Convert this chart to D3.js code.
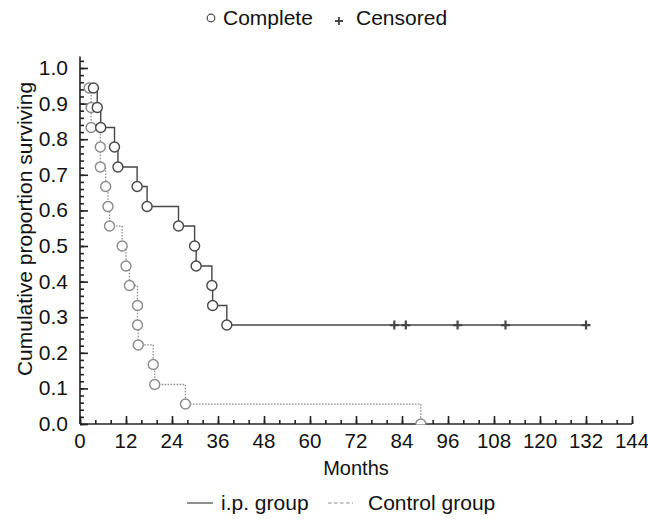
<!DOCTYPE html>
<html>
<head>
<meta charset="utf-8">
<script src="https://cdn.jsdelivr.net/npm/d3@7"></script>
<style>
  body { margin: 0; background: #fff; }
  text { font-family: "Liberation Sans", Arial, sans-serif; }
</style>
</head>
<body>
<div id="chart"></div>
<script>
// ---------------------------------- DATA ---------------------------------- //

// i.p. group: event times (months) and survival after each event
let ip_times = [3.5, 4.5, 5.4, 9.0, 9.9, 14.9, 17.5, 25.7, 29.9, 30.3, 34.4, 34.6, 38.3];
let ip_surv = [0.944, 0.889, 0.833, 0.778, 0.722, 0.667, 0.611, 0.556, 0.5, 0.444, 0.389, 0.333, 0.278];
let ip_censored = [82, 85, 98.5, 111, 132];

// control group
let ctl_times = [2.4, 2.9, 2.9, 5.3, 5.3, 6.7, 7.3, 7.7, 11, 12, 12.9, 15, 15, 15.2, 19.1, 19.5, 27.5, 88.9];
let ctl_surv = [0.944, 0.889, 0.833, 0.778, 0.722, 0.667, 0.611, 0.556, 0.5, 0.444, 0.389, 0.333, 0.278, 0.222, 0.167, 0.111, 0.056, 0];

let x_ticks = d3.range(0, 145, 12);
let y_ticks = d3.range(0, 1.01, 0.1);

// ---------------------------------- SETTINGS ---------------------------------- //

let img_width = 648;
let img_height = 519;
let ip_color = '#464646';
let ctl_color = '#8a8a8a';
let axis_color = '#222';
let text_color = '#111';
let tick_font = 20.5;
let label_font = 21;

let x = d3.scaleLinear().domain([0, 144]).range([80, 632]);
let y = d3.scaleLinear().domain([0, 1]).range([424, 68]);

let svg = d3.select('#chart').append('svg')
  .attr('width', img_width)
  .attr('height', img_height);

svg.append('rect').attr('width', img_width).attr('height', img_height).attr('fill', '#fff');

// ---------------------------------- AXES ---------------------------------- //

let g_axis = svg.append('g').attr('id', 'g_axis');

// x axis: minor ticks every 4, major every 12, pointing up
g_axis.append('g')
  .attr('transform', `translate(0,${y(0)})`)
  .call(d3.axisTop(x).tickValues(d3.range(0, 145, 4)).tickSize(4).tickFormat(''))
  .call(g => g.select('.domain').remove());
let x_axis = g_axis.append('g')
  .attr('transform', `translate(0,${y(0)})`)
  .call(d3.axisTop(x).tickValues(x_ticks).tickSize(8).tickFormat(''));
x_axis.select('.domain').attr('d', `M${x(0)},0H${x(144)}`);

g_axis.selectAll('.xlab')
  .data(x_ticks)
  .enter()
  .append('text')
  .attr('class', 'xlab')
  .attr('x', d => x(d))
  .attr('y', 448)
  .attr('text-anchor', 'middle')
  .attr('font-size', tick_font)
  .attr('fill', text_color)
  .text(d => d);

// y axis: minor ticks every 0.02, major every 0.1, pointing right
let g_yaxis = g_axis.append('g').attr('transform', `translate(${x(0)},0)`);
g_yaxis.append('g')
  .call(d3.axisRight(y).tickValues(d3.range(0, 1.021, 0.02)).tickSize(4).tickFormat(''))
  .call(g => g.select('.domain').remove());
g_yaxis.append('g')
  .call(d3.axisRight(y).tickValues(y_ticks).tickSize(8).tickFormat(''))
  .call(g => g.select('.domain').attr('d', `M0,${y(0)}V${y(1.032)}`));

g_axis.selectAll('line, path').attr('stroke', axis_color).attr('stroke-width', 1.6);

g_axis.selectAll('.ylab')
  .data(y_ticks)
  .enter()
  .append('text')
  .attr('class', 'ylab')
  .attr('x', 68)
  .attr('y', d => y(d) + 7)
  .attr('text-anchor', 'end')
  .attr('font-size', label_font)
  .attr('fill', text_color)
  .text(d => d.toFixed(1));

svg.append('text')
  .attr('x', 356)
  .attr('y', 475)
  .attr('text-anchor', 'middle')
  .attr('font-size', 20)
  .attr('fill', text_color)
  .text('Months');

svg.append('text')
  .attr('transform', 'translate(32,229) rotate(-90)')
  .attr('text-anchor', 'middle')
  .attr('font-size', label_font)
  .attr('fill', text_color)
  .text('Cumulative proportion surviving');

// ---------------------------------- CURVES ---------------------------------- //

svg.append('clipPath').attr('id', 'plot_clip')
  .append('rect')
  .attr('x', x(0)).attr('y', 0)
  .attr('width', x(144) - x(0) + 10).attr('height', y(0) + 0.5);

let g_plot = svg.append('g').attr('clip-path', 'url(#plot_clip)');

function stepPoints(times, surv, last_time) {
  let pts = [[times[0], surv[0]]];
  for (let i = 1; i < times.length; i++) {
    pts.push([times[i], surv[i - 1]]);
    pts.push([times[i], surv[i]]);
  }
  if (last_time !== undefined) pts.push([last_time, surv[surv.length - 1]]);
  return pts;
}

let line = d3.line().x(d => x(d[0])).y(d => y(d[1]));

g_plot.append('path')
  .attr('d', line(stepPoints(ctl_times, ctl_surv)))
  .attr('fill', 'none')
  .attr('stroke', ctl_color)
  .attr('stroke-width', 1.3)
  .attr('stroke-dasharray', '1.5,1.5');

g_plot.append('path')
  .attr('d', line(stepPoints(ip_times, ip_surv, d3.max(ip_censored))))
  .attr('fill', 'none')
  .attr('stroke', ip_color)
  .attr('stroke-width', 1.4);

let ctl_pts = ctl_times.map((t, i) => [t, ctl_surv[i]]);
let ip_pts = ip_times.map((t, i) => [t, ip_surv[i]]);

g_plot.selectAll('.ctl_circle')
  .data(ctl_pts)
  .enter()
  .append('circle')
  .attr('class', 'ctl_circle')
  .attr('cx', d => x(d[0]))
  .attr('cy', d => y(d[1]))
  .attr('r', 5)
  .attr('fill', '#fff')
  .attr('stroke', ctl_color)
  .attr('stroke-width', 1.4);

g_plot.selectAll('.ip_circle')
  .data(ip_pts)
  .enter()
  .append('circle')
  .attr('class', 'ip_circle')
  .attr('cx', d => x(d[0]))
  .attr('cy', d => y(d[1]))
  .attr('r', 5)
  .attr('fill', '#fff')
  .attr('stroke', ip_color)
  .attr('stroke-width', 1.4);

let ip_last = ip_surv[ip_surv.length - 1];
g_plot.selectAll('.censor')
  .data(ip_censored)
  .enter()
  .append('path')
  .attr('class', 'censor')
  .attr('transform', d => `translate(${x(d)},${y(ip_last)})`)
  .attr('d', 'M-4.5,0H4.5M0,-4.5V4.5')
  .attr('stroke', ip_color)
  .attr('stroke-width', 2.2);

// ---------------------------------- LEGENDS ---------------------------------- //

let g_top = svg.append('g');
g_top.append('circle').attr('cx', 211).attr('cy', 18).attr('r', 3.8)
  .attr('fill', 'none').attr('stroke', ip_color).attr('stroke-width', 1.2);
g_top.append('text').attr('x', 223).attr('y', 25).attr('font-size', label_font).attr('fill', text_color).text('Complete');
g_top.append('path').attr('transform', 'translate(339,21)').attr('d', 'M-4,0H4M0,-4V4')
  .attr('stroke', ip_color).attr('stroke-width', 1.8);
g_top.append('text').attr('x', 356).attr('y', 25).attr('font-size', label_font).attr('fill', text_color).text('Censored');

let g_bot = svg.append('g');
g_bot.append('line').attr('x1', 187).attr('x2', 213).attr('y1', 503).attr('y2', 503)
  .attr('stroke', ip_color).attr('stroke-width', 1.2);
g_bot.append('text').attr('x', 221).attr('y', 510).attr('font-size', label_font).attr('fill', text_color).text('i.p. group');
g_bot.append('line').attr('x1', 328).attr('x2', 353).attr('y1', 503).attr('y2', 503)
  .attr('stroke', ctl_color).attr('stroke-width', 1.2).attr('stroke-dasharray', '3.5,2.5');
g_bot.append('text').attr('x', 368).attr('y', 510).attr('font-size', label_font).attr('fill', text_color).text('Control group');
</script>
</body>
</html>
